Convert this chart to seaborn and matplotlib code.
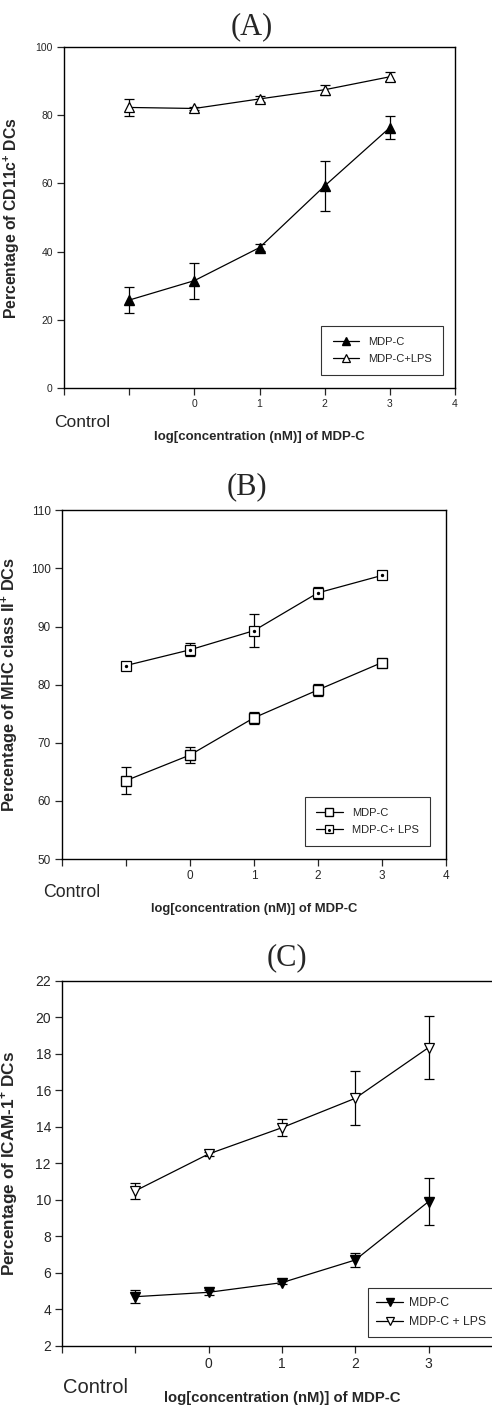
import numpy as np
import pandas as pd
import seaborn as sns
import matplotlib
matplotlib.use("Agg")
import matplotlib.pyplot as plt

sns.set_style("ticks")
plt.rcParams['font.family'] = ['Liberation Sans', 'DejaVu Sans']
plt.rcParams['mathtext.fontset'] = 'custom'
plt.rcParams['mathtext.rm'] = 'Liberation Sans'
plt.rcParams['mathtext.bf'] = 'Liberation Sans:bold'

# x positions: control is drawn at -1, then log10 of concentration 0..3
x_pos = [-1, 0, 1, 2, 3]
tick_pos = [-2, -1, 0, 1, 2, 3, 4]
tick_lab = ['', '', '0', '1', '2', '3', '4']
tick_lab_c = ['', '', '0', '1', '2', '3', '']   # panel C is cut at the right edge

# (A) CD11c+
a_mdp = [25.8, 31.5, 41.2, 59.3, 76.4]
a_mdp_err = [3.8, 5.3, 1.1, 7.3, 3.3]
a_lps = [82.3, 82.0, 84.8, 87.5, 91.3]
a_lps_err = [2.6, 0.5, 0.8, 1.5, 1.3]

# (B) MHC class II+
b_mdp = [63.5, 67.9, 74.3, 79.1, 83.8]
b_mdp_err = [2.3, 1.3, 1.0, 1.1, 0.5]
b_lps = [83.3, 86.0, 89.3, 95.8, 98.8]
b_lps_err = [0.4, 1.1, 2.8, 1.0, 0.4]

# (C) ICAM-1+
c_mdp = [4.70, 4.94, 5.47, 6.71, 9.91]
c_mdp_err = [0.37, 0.15, 0.10, 0.40, 1.28]
c_lps = [10.5, 12.52, 13.96, 15.57, 18.35]
c_lps_err = [0.45, 0.10, 0.45, 1.48, 1.72]

fig = plt.figure(figsize=(4.92, 14.06), dpi=100)

axA = fig.add_axes([0.130, 0.724, 0.795, 0.2425])
axB = fig.add_axes([0.126, 0.389, 0.780, 0.248])
axC = fig.add_axes([0.126, 0.0427, 0.894, 0.2596])


def draw(ax, mdp, mdp_err, lps, lps_err, m_mdp, m_lps, fc_mdp, lps_label, ms=6.5, dot=False):
    df = pd.DataFrame({'x': x_pos, 'mdp': mdp, 'lps': lps})
    for y, e in [(mdp, mdp_err), (lps, lps_err)]:
        ax.errorbar(x_pos, y, yerr=e, fmt='none', ecolor='black',
                    elinewidth=0.9, capsize=3.5, capthick=0.9, zorder=2)
    sns.lineplot(data=df, x='x', y='mdp', ax=ax, color='black', lw=0.9,
                 marker=m_mdp, markersize=ms, markerfacecolor=fc_mdp,
                 markeredgecolor='black', markeredgewidth=1.0, label='MDP-C', zorder=3)
    sns.lineplot(data=df, x='x', y='lps', ax=ax, color='black', lw=0.9,
                 marker=m_lps, markersize=ms, markerfacecolor='white',
                 markeredgecolor='black', markeredgewidth=0.9, label=lps_label, zorder=3)
    handles, labels = ax.get_legend_handles_labels()
    if dot:
        d = ax.scatter(x_pos, lps, s=2, color='black', zorder=4)
        handles = [handles[0], (handles[1], d)]
    return handles, labels


def style(ax, ylim, yticks, ylabel, label_x, tsize, lsize, xlabels=tick_lab):
    ax.set_xlim(-2, 4)
    ax.set_ylim(*ylim)
    ax.set_yticks(yticks)
    ax.set_xticks(tick_pos)
    ax.set_xticklabels(xlabels)
    ax.tick_params(direction='out', length=5, width=0.9, labelsize=tsize, pad=3,
                   top=False, right=False)
    for s in ax.spines.values():
        s.set_linewidth(1.0)
        s.set_color('black')
    ax.set_xlabel('')
    ax.set_ylabel(ylabel, fontsize=lsize, fontweight='bold')
    ax.yaxis.set_label_coords(label_x, 0.5)


def legend(ax, h, l, size, hl=2.4, bp=1.0, tp=0.8, **kw):
    leg = ax.legend(h, l, borderaxespad=0, fontsize=size, frameon=True, fancybox=False,
                    edgecolor='black', handlelength=hl, borderpad=bp, labelspacing=0.6,
                    handletextpad=tp, markerscale=0.85, **kw)
    leg.get_frame().set_linewidth(0.8)


hA, lA = draw(axA, a_mdp, a_mdp_err, a_lps, a_lps_err, '^', '^', 'black', 'MDP-C+LPS')
style(axA, (0, 100), range(0, 101, 20), r'Percentage of CD11c$^{\mathbf{+}}$ DCs', -0.107, 7.5, 11.3)
legend(axA, hA, lA, 8, loc='lower right', bbox_to_anchor=(0.969, 0.038))

hB, lB = draw(axB, b_mdp, b_mdp_err, b_lps, b_lps_err, 's', 's', 'white', 'MDP-C+ LPS', dot=True)
style(axB, (50, 110), range(50, 111, 10), r'Percentage of MHC class II$^{\mathbf{+}}$ DCs', -0.109, 8.5, 11.8)
legend(axB, hB, lB, 8, loc='lower right', bbox_to_anchor=(0.958, 0.037))

hC, lC = draw(axC, c_mdp, c_mdp_err, c_lps, c_lps_err, 'v', 'v', 'black', 'MDP-C + LPS', ms=7.5)
style(axC, (2, 22), range(2, 23, 2), r'Percentage of ICAM-1$^{\mathbf{+}}$ DCs', -0.095, 10, 12.3,
      xlabels=tick_lab_c)
axC.spines['right'].set_visible(False)
legend(axC, hC, lC, 8.8, hl=2.2, bp=0.7, tp=0.5, loc='lower left', bbox_to_anchor=(0.695, 0.025))

# control labels and x axis labels
xlab = 'log[concentration (nM)] of MDP-C'
axA.text(0.047, -0.10, 'Control', transform=axA.transAxes, fontsize=12.5, ha='center', va='center')
axA.text(0.5, -0.145, xlab, transform=axA.transAxes, fontsize=9.5, fontweight='bold', ha='center', va='center')
axB.text(0.025, -0.095, 'Control', transform=axB.transAxes, fontsize=12.8, ha='center', va='center')
axB.text(0.5, -0.143, xlab, transform=axB.transAxes, fontsize=9.4, fontweight='bold', ha='center', va='center')
axC.text(0.077, -0.115, 'Control', transform=axC.transAxes, fontsize=14.5, ha='center', va='center')
axC.text(0.5, -0.142, xlab, transform=axC.transAxes, fontsize=10.7, fontweight='bold', ha='center', va='center')

# panel titles
serif = ['Liberation Serif', 'DejaVu Serif']
fig.text(252 / 492, 1 - 27 / 1406, '(A)', family=serif, fontsize=22, ha='center', va='center')
fig.text(247 / 492, 1 - 487 / 1406, '(B)', family=serif, fontsize=22, ha='center', va='center')
fig.text(287 / 492, 1 - 958 / 1406, '(C)', family=serif, fontsize=22, ha='center', va='center')

fig.savefig('out.png', dpi=100)
